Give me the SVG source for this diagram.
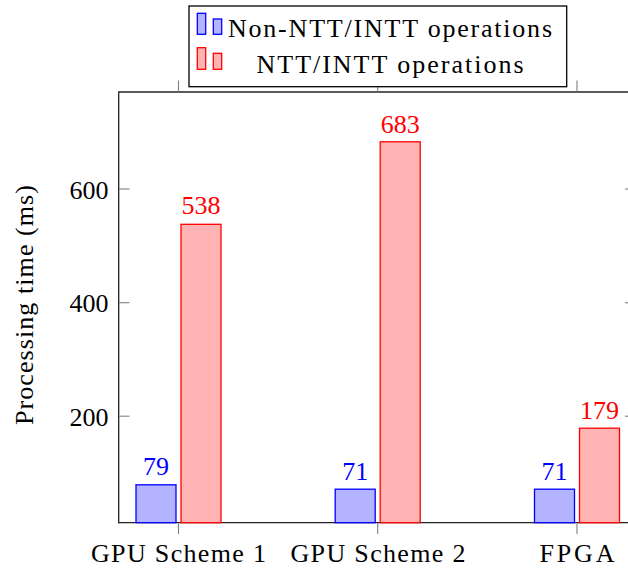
<svg xmlns="http://www.w3.org/2000/svg" width="628" height="569" viewBox="0 0 628 569">
<style>
text{font-family:'Liberation Serif','Times New Roman',serif;font-size:26px;fill:#000}
.blue{fill:#b3b3ff;stroke:#0000ff;stroke-width:1.3}
.red{fill:#ffb3b3;stroke:#ff0000;stroke-width:1.3}
.bl{fill:#0000ff;text-anchor:middle}
.rl{fill:#ff0000;text-anchor:middle}
.tick{stroke:#808080;stroke-width:1.1;fill:none}
.ax{stroke:#222;stroke-width:1.3;fill:none}
.yt{text-anchor:end}
.xt{text-anchor:middle}
</style>
<rect width="628" height="569" fill="#fff"/>
<g id="axes">
<line class="ax" x1="118.7" y1="92" x2="628" y2="92"/>
<line class="ax" x1="118.7" y1="91.4" x2="118.7" y2="523.3"/>
<line class="ax" x1="118" y1="522.7" x2="628" y2="522.7"/>
<g id="ticks">
<line class="tick" x1="119" y1="189" x2="129.5" y2="189"/>
<line class="tick" x1="119" y1="302.7" x2="129.5" y2="302.7"/>
<line class="tick" x1="119" y1="416.2" x2="129.5" y2="416.2"/>
<line class="tick" x1="625" y1="189" x2="640" y2="189"/>
<line class="tick" x1="625" y1="302.7" x2="640" y2="302.7"/>
<line class="tick" x1="625" y1="416.2" x2="640" y2="416.2"/>
<line class="tick" x1="178.5" y1="80.5" x2="178.5" y2="91.5"/>
<line class="tick" x1="377.7" y1="80.5" x2="377.7" y2="91.5"/>
<line class="tick" x1="577" y1="80.5" x2="577" y2="91.5"/>
<line class="tick" x1="178.5" y1="523.3" x2="178.5" y2="534"/>
<line class="tick" x1="377.7" y1="523.3" x2="377.7" y2="534"/>
<line class="tick" x1="577" y1="523.3" x2="577" y2="534"/>
</g>
<g id="yticklabels">
<text class="yt" x="108.5" y="198.5">600</text>
<text class="yt" x="108.5" y="312.2">400</text>
<text class="yt" x="108.5" y="425.7">200</text>
</g>
<g id="xticklabels">
<text class="xt" x="178.5" y="561.5" textLength="175" lengthAdjust="spacing">GPU Scheme 1</text>
<text class="xt" x="378" y="561.5" textLength="175" lengthAdjust="spacing">GPU Scheme 2</text>
<text class="xt" x="577" y="561.5" textLength="75" lengthAdjust="spacing">FPGA</text>
</g>
<text id="ylabel" class="xt" transform="translate(33,305) rotate(-90)" x="0" y="0" textLength="240" lengthAdjust="spacing">Processing time (ms)</text>
</g>
<g id="bar-gpu1-non">
<rect class="blue" x="136" y="484.8" width="40" height="37.9"/>
<text class="bl" x="156" y="475">79</text>
</g>
<g id="bar-gpu1-ntt">
<rect class="red" x="181" y="224.3" width="40" height="298.4"/>
<text class="rl" x="201" y="214.3">538</text>
</g>
<g id="bar-gpu2-non">
<rect class="blue" x="335.2" y="489.2" width="40" height="33.5"/>
<text class="bl" x="355.2" y="480">71</text>
</g>
<g id="bar-gpu2-ntt">
<rect class="red" x="380.2" y="141.8" width="40" height="380.9"/>
<text class="rl" x="400.2" y="133.3">683</text>
</g>
<g id="bar-fpga-non">
<rect class="blue" x="534.5" y="489.2" width="40" height="33.5"/>
<text class="bl" x="554.5" y="480">71</text>
</g>
<g id="bar-fpga-ntt">
<rect class="red" x="579.5" y="428.2" width="40" height="94.5"/>
<text class="rl" x="599.5" y="419">179</text>
</g>
<g id="legend">
<rect x="189" y="6" width="377.7" height="80.7" fill="#fff" stroke="#000" stroke-width="1.3"/>
<rect class="blue" x="197.3" y="13.3" width="8.4" height="21"/>
<rect class="blue" x="213.3" y="19" width="8.4" height="15.3"/>
<text x="390" y="37.3" text-anchor="middle" textLength="324" lengthAdjust="spacing">Non-NTT/INTT operations</text>
<rect class="red" x="197.3" y="47.7" width="8.4" height="21.6"/>
<rect class="red" x="213.3" y="53.3" width="8.4" height="16"/>
<text x="390" y="72.7" text-anchor="middle" textLength="267" lengthAdjust="spacing">NTT/INTT operations</text>
</g>
</svg>
